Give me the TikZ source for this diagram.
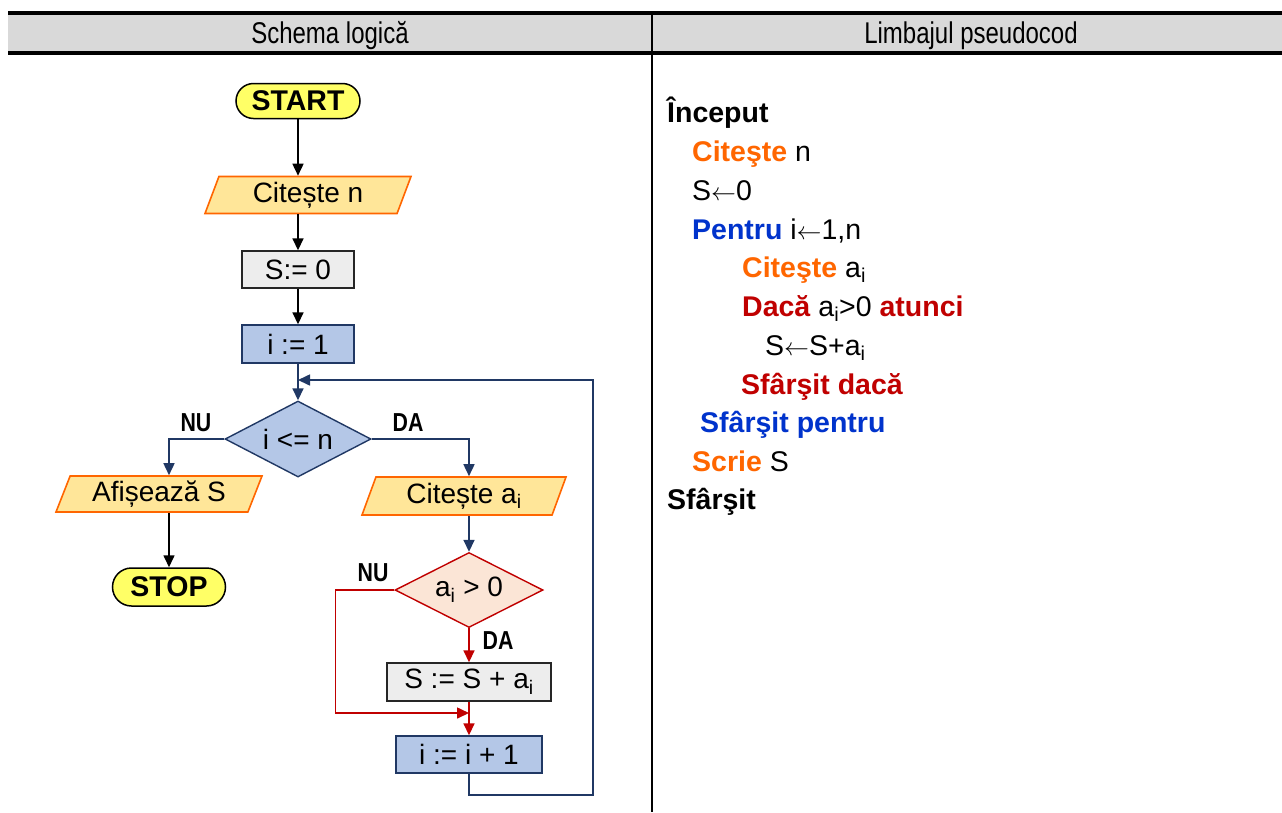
\documentclass[tikz,border=0pt]{standalone}
\usepackage{fontspec}
\setmainfont{Liberation Sans}
\newfontfamily\narrowfont{Liberation Sans}[FakeStretch=0.8]
\newfontfamily\tagfont{Liberation Sans}[FakeStretch=0.82]
\usetikzlibrary{shapes.geometric,shapes.misc,arrows.meta}

\definecolor{hdrgray}{HTML}{D9D9D9}
\definecolor{termyellow}{HTML}{FFFF66}
\definecolor{iofill}{HTML}{FFE699}
\definecolor{ioedge}{HTML}{FF6600}
\definecolor{procfill}{HTML}{EDEDED}
\definecolor{bluefill}{HTML}{B4C7E7}
\definecolor{navy}{HTML}{203864}
\definecolor{peach}{HTML}{FBE5D6}
\definecolor{cred}{HTML}{C00000}
\definecolor{corange}{HTML}{FF6600}
\definecolor{cblue}{HTML}{0033CC}

\newcommand{\assignarrow}{$\leftarrow$}

\tikzset{
  txt/.style={font=\fontsize{28}{33}\selectfont, inner sep=0pt, align=center},
  term/.style={txt, rounded rectangle, draw=black, line width=1.5pt, fill=termyellow,
    font=\fontsize{28.5}{33}\selectfont\bfseries, minimum height=36pt},
  iobox/.style={txt, trapezium, trapezium left angle=62, trapezium right angle=118,
    trapezium stretches body, draw=ioedge, fill=iofill, line width=1.6pt, minimum height=37pt},
  procgray/.style={txt, rectangle, draw=black!85, fill=procfill, line width=1.4pt},
  procblue/.style={txt, rectangle, draw=navy, fill=bluefill, line width=1.4pt},
  decblue/.style={txt, diamond, shape aspect=1.9, draw=navy, fill=bluefill, line width=1.4pt,
    minimum width=146pt, minimum height=76pt},
  decred/.style={txt, diamond, shape aspect=1.9, draw=cred, fill=peach, line width=1.4pt,
    minimum width=148pt, minimum height=75pt},
  tip/.style={-{Triangle[length=12pt,width=11pt]}},
  arrK/.style={tip, draw=black, line width=1.6pt},
  arrN/.style={tip, draw=navy, line width=1.6pt},
  arrR/.style={tip, draw=cred, line width=1.6pt},
  tag/.style={font=\tagfont\bfseries\fontsize{26}{30}\selectfont, inner sep=0pt},
  hdr/.style={font=\narrowfont\fontsize{30}{36}\selectfont, inner sep=0pt, anchor=base},
  code/.style={anchor=base west, inner sep=0pt, font=\fontsize{28.5}{34}\selectfont},
}

\begin{document}
\begin{tikzpicture}[x=1pt,y=-1pt]
\useasboundingbox (0,0) rectangle (1282,812);
\fill[white] (0,0) rectangle (1282,812);

% table header and column rule
\fill[hdrgray] (8,13) rectangle (1282,53);
\draw[line width=3.5pt] (8,13) -- (1282,13);
\draw[line width=3.5pt] (8,53) -- (1282,53);
\draw[line width=2.6pt] (652,13) -- (652,812);
\node[hdr] (hleft) at (330,43) {Schema logică};
\node[hdr] (hright) at (971,43) {Limbajul pseudocod};

% flowchart blocks
\node[term, minimum width=124pt, minimum height=35pt] (start) at (298,101) {START};
\node[iobox, minimum width=206pt] (readn) at (308,195) {Citește n};
\node[procgray, minimum width=112pt, minimum height=37pt] (s0) at (298,269.5) {S:= 0};
\node[procblue, minimum width=112pt, minimum height=38pt] (i1) at (298,344) {i := 1};
\node[decblue] (cond) at (298,439) {i <= n};
\node[iobox, minimum width=206pt, minimum height=36pt] (print) at (159,494) {Afișează S};
\node[term, minimum width=113pt, minimum height=38pt] (stop) at (169,587) {STOP};
\node[iobox, minimum width=204pt, minimum height=38pt] (readai) at (464,496) {Citește a\textsubscript{i}};
\node[decred] (pos) at (469,590) {a\textsubscript{i} > 0};
\node[procgray, minimum width=164pt, minimum height=38pt] (add) at (469,682) {S := S + a\textsubscript{i}};
\node[procblue, minimum width=146pt, minimum height=37pt] (inc) at (469,754.5) {i := i + 1};

\coordinate (merge) at (298,380);
\coordinate (loopcorner) at (593,795);
\coordinate (join) at (469,713);

% connectors
\draw[arrK] (start.south) -- (start.south |- readn.north);
\draw[arrK] (start.south |- readn.south) -- (s0.north);
\draw[arrK] (s0.south) -- (i1.north);
\draw[arrN] (i1.south) -- (cond.north);
\draw[arrN] (cond.west) -| (stop.north |- print.north);
\draw[arrK] (stop.north |- print.south) -- (stop.north);
\draw[arrN] (cond.east) -| (pos.north |- readai.north);
\draw[arrN] (pos.north |- readai.south) -- (pos.north);
\draw[arrR] (pos.south) -- (add.north);
\draw[arrR] (add.south) -- (inc.north);
\draw[arrR] (pos.west) -- ++(-59,0) |- (join);
\draw[arrN] (inc.south) |- (loopcorner) |- (merge);

% branch labels
\node[tag] (nu1) at (196,423) {NU};
\node[tag] (da1) at (408,423) {DA};
\node[tag] (nu2) at (373,573) {NU};
\node[tag] (da2) at (498,641) {DA};

% pseudocode
\node[code] (p1) at (667,122) {\textbf{Început}};
\node[code] (p2) at (692,161) {\textcolor{corange}{\textbf{Citeşte}} n};
\node[code] (p3) at (692,200.5) {S\assignarrow0};
\node[code] (p4) at (692,239) {\textcolor{cblue}{\textbf{Pentru}} i\assignarrow1,n};
\node[code] (p5) at (742,277) {\textcolor{corange}{\textbf{Citeşte}} a\textsubscript{i}};
\node[code] (p6) at (742,316) {\textcolor{cred}{\textbf{Dacă}} a\textsubscript{i}>0 \textcolor{cred}{\textbf{atunci}}};
\node[code] (p7) at (765,355) {S\assignarrow S+a\textsubscript{i}};
\node[code] (p8) at (741,394) {\textcolor{cred}{\textbf{Sfârşit dacă}}};
\node[code] (p9) at (700,432) {\textcolor{cblue}{\textbf{Sfârşit pentru}}};
\node[code] (p10) at (692,471) {\textcolor{corange}{\textbf{Scrie}} S};
\node[code] (p11) at (667,509) {\textbf{Sfârşit}};
\end{tikzpicture}
\end{document}
